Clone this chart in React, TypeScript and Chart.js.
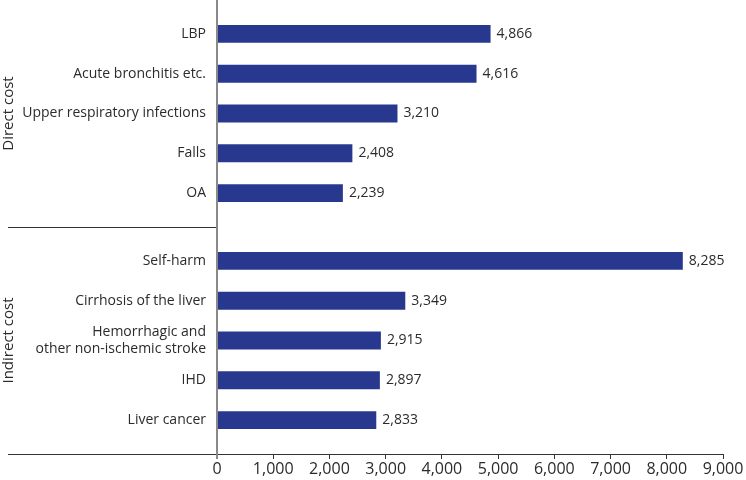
import React, { useEffect, useRef } from "react";
import { Chart, registerables } from "chart.js";

Chart.register(...registerables);

const directLabels: (string | string[])[] = [
  "LBP",
  "Acute bronchitis etc.",
  "Upper respiratory infections",
  "Falls",
  "OA",
];
const directValues = [4866, 4616, 3210, 2408, 2239];

const indirectLabels: (string | string[])[] = [
  "Self-harm",
  "Cirrhosis of the liver",
  ["Hemorrhagic and", "other non-ischemic stroke"],
  "IHD",
  "Liver cancer",
];
const indirectValues = [8285, 3349, 2915, 2897, 2833];

const groupTitles = ["Direct cost", "Indirect cost"];
const xTickValues = [0, 1000, 2000, 3000, 4000, 5000, 6000, 7000, 8000, 9000];

const FONT = "'Open Sans', 'DejaVu Sans', sans-serif";
const BAR_COLOR = "#29388f";
const TEXT_COLOR = "#2b2b2b";

const fmt = (v: number) => v.toLocaleString("en-US");

function groupScale(labels: (string | string[])[], title: string) {
  return {
    type: "linear" as const,
    position: "left" as const,
    stack: "groups",
    stackWeight: 1,
    reverse: true,
    offset: false,
    bounds: "data",
    grace: 0,
    min: -0.85,
    max: labels.length - 1 + 0.85,
    afterDataLimits: (s: any) => {
      s.min = -0.85;
      s.max = labels.length - 1 + 0.85;
    },
    afterBuildTicks: (s: any) => {
      s.ticks = labels.map((_, i) => ({ value: i }));
    },
    afterFit: (s: any) => {
      s.width = 217;
      s.paddingTop = 0;
      s.paddingBottom = 0;
    },
    ticks: {
      autoSkip: false,
      padding: 3,
      color: TEXT_COLOR,
      font: { family: FONT, size: 14 },
      callback: (v: any) => labels[Math.round(Number(v))] ?? "",
    },
    grid: { display: false },
    border: { display: true, color: "#8a8a8a", width: 2 },
    title: {
      display: true,
      text: title,
      color: TEXT_COLOR,
      font: { family: FONT, size: 15 },
      padding: { top: 0, bottom: 0 },
    },
  };
}

const extrasPlugin = {
  id: "extras",
  afterDraw(chart: any) {
    const { ctx, chartArea, scales } = chart;
    ctx.save();
    ctx.strokeStyle = "#333";
    ctx.lineWidth = 1;
    const sepY = Math.round(scales.yDirect.bottom) + 0.5;
    const axY = Math.round(chartArea.bottom) + 0.5;
    ctx.beginPath();
    ctx.moveTo(8, sepY);
    ctx.lineTo(chartArea.left - 1, sepY);
    ctx.moveTo(8, axY);
    ctx.lineTo(chartArea.left - 1, axY);
    ctx.stroke();
    ctx.fillStyle = TEXT_COLOR;
    ctx.font = `14px ${FONT}`;
    ctx.textAlign = "left";
    ctx.textBaseline = "middle";
    chart.data.datasets.forEach((ds: any, di: number) => {
      const meta = chart.getDatasetMeta(di);
      meta.data.forEach((bar: any, i: number) => {
        const v = ds.data[i].x;
        ctx.fillText(fmt(v), bar.x + 6, bar.y);
      });
    });
    ctx.restore();
  },
};

export default function App() {
  const ref = useRef<HTMLCanvasElement | null>(null);

  useEffect(() => {
    if (!ref.current) return;
    const chart = new Chart(ref.current, {
      type: "bar",
      data: {
        datasets: [
          {
            label: groupTitles[0],
            data: directValues.map((v, i) => ({ x: v, y: i })),
            yAxisID: "yDirect",
            backgroundColor: BAR_COLOR,
            borderWidth: 0,
            grouped: false,
            barPercentage: 0.45,
            categoryPercentage: 1,
          },
          {
            label: groupTitles[1],
            data: indirectValues.map((v, i) => ({ x: v, y: i })),
            yAxisID: "yIndirect",
            backgroundColor: BAR_COLOR,
            borderWidth: 0,
            grouped: false,
            barPercentage: 0.45,
            categoryPercentage: 1,
          },
        ],
      },
      options: {
        indexAxis: "y",
        responsive: false,
        animation: false,
        layout: { padding: { left: 0, right: 23, top: 0, bottom: 0 } },
        plugins: {
          legend: { display: false },
          tooltip: { enabled: false },
        },
        scales: {
          x: {
            type: "linear",
            position: "bottom",
            min: 0,
            max: 9000,
            afterBuildTicks: (s: any) => {
              s.ticks = xTickValues.map((v) => ({ value: v }));
            },
            afterFit: (s: any) => {
              s.height = 26;
            },
            ticks: {
              autoSkip: false,
              maxRotation: 0,
              padding: 1,
              color: TEXT_COLOR,
              font: { family: FONT, size: 16 },
              callback: (v: any) => fmt(Number(v)),
            },
            grid: {
              drawOnChartArea: false,
              drawTicks: true,
              tickLength: 5,
              color: (c: any) => (c.index === 0 ? "#8a8a8a" : "#333"),
              lineWidth: (c: any) => (c.index === 0 ? 2 : 1),
            },
            border: { display: true, color: "#333", width: 1 },
          },
          yIndirect: groupScale(indirectLabels, groupTitles[1]),
          yDirect: groupScale(directLabels, groupTitles[0]),
        } as any,
      },
      plugins: [extrasPlugin],
    });
    return () => chart.destroy();
  }, []);

  return (
    <div style={{ position: "absolute", left: 0, top: 0, width: 746, height: 480, background: "#fff" }}>
      <canvas ref={ref} width={746} height={480} />
    </div>
  );
}
